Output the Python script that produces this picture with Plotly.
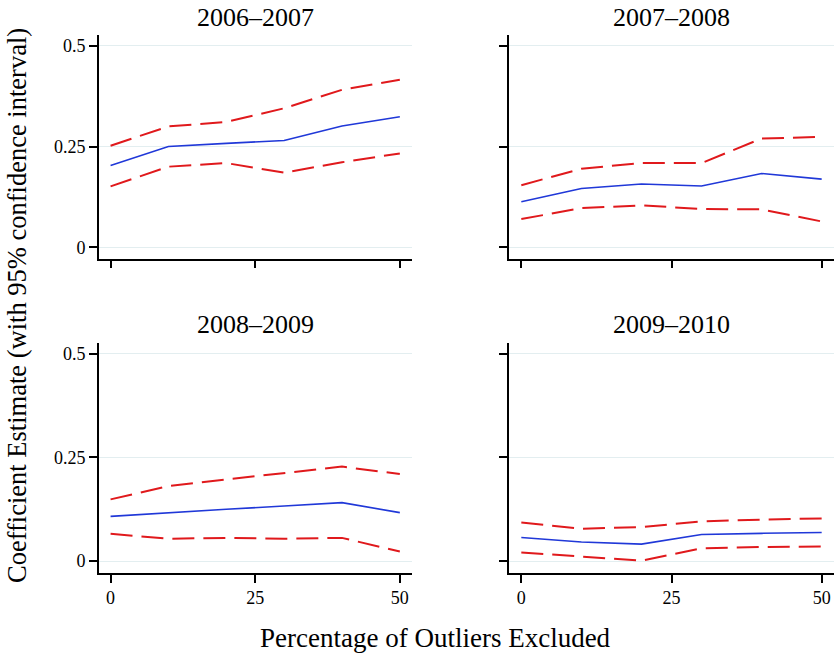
import plotly.graph_objects as go

# ---- data ----
pct = [0, 10, 20, 30, 40, 50]
periods = ["2006–2007", "2007–2008", "2008–2009", "2009–2010"]

est_0607 = [0.203, 0.250, 0.258, 0.265, 0.301, 0.324]
up_0607 = [0.252, 0.300, 0.311, 0.345, 0.391, 0.416]
lo_0607 = [0.151, 0.200, 0.209, 0.185, 0.211, 0.233]

est_0708 = [0.113, 0.146, 0.157, 0.152, 0.183, 0.169]
up_0708 = [0.154, 0.195, 0.209, 0.209, 0.270, 0.274]
lo_0708 = [0.070, 0.097, 0.104, 0.095, 0.094, 0.064]

est_0809 = [0.108, 0.117, 0.125, 0.133, 0.141, 0.117]
up_0809 = [0.149, 0.181, 0.197, 0.212, 0.228, 0.210]
lo_0809 = [0.066, 0.054, 0.056, 0.054, 0.056, 0.023]

est_0910 = [0.057, 0.046, 0.041, 0.064, 0.067, 0.069]
up_0910 = [0.093, 0.078, 0.082, 0.096, 0.100, 0.103]
lo_0910 = [0.021, 0.011, 0.001, 0.031, 0.034, 0.035]

y_ticks = [0, 0.25, 0.5]
y_tick_labels = ["0", "0.25", "0.5"]
x_ticks = [0, 25, 50]
x_tick_labels = ["0", "25", "50"]

panels = [
    (est_0607, up_0607, lo_0607),
    (est_0708, up_0708, lo_0708),
    (est_0809, up_0809, lo_0809),
    (est_0910, up_0910, lo_0910),
]

# ---- layout geometry ----
W, H = 836, 656
FONT = "Liberation Serif"
BLUE = "#2038d8"
RED = "#e0191c"
GRID = "#e3eef0"


def px(x):
    return x / W


def py(y):
    return 1 - y / H


xdom = [[px(99), px(411.7)], [px(509.3), px(834)],
        [px(99), px(411.7)], [px(509.3), px(834)]]
ydom = [[py(258.5), py(35)], [py(258.5), py(35)],
        [py(572.7), py(342.7)], [py(572.7), py(342.7)]]
title_y = [py(17.5), py(17.5), py(325), py(325)]
title_x = [px((110.7 + 400) / 2), px((520.7 + 821.7) / 2),
           px((110.7 + 400) / 2), px((520.7 + 821.7) / 2)]

fig = go.Figure()
layout = dict(
    width=W, height=H,
    margin=dict(l=0, r=0, t=0, b=0),
    paper_bgcolor="white", plot_bgcolor="white",
    showlegend=False,
    font=dict(family=FONT, color="black", size=18),
)

annotations = []
for i, (est, up, lo) in enumerate(panels):
    n = "" if i == 0 else str(i + 1)
    xa, ya = "x" + n, "y" + n
    for vals, color, width, dash in [(up, RED, 2, "22px,9px"),
                                     (lo, RED, 2, "22px,9px"),
                                     (est, BLUE, 1.6, "solid")]:
        fig.add_trace(go.Scatter(x=pct, y=vals, mode="lines", xaxis=xa, yaxis=ya,
                                 line=dict(color=color, width=width, dash=dash),
                                 hoverinfo="skip"))
    bottom = i >= 2
    left = i % 2 == 0
    layout["xaxis" + n] = dict(
        domain=xdom[i], anchor=ya, range=[-2, 52.05],
        tickmode="array", tickvals=x_ticks, ticktext=x_tick_labels,
        showticklabels=bottom, ticks="outside", ticklen=8, tickwidth=1.5,
        tickcolor="black", showline=True, linecolor="black", linewidth=1.8,
        showgrid=False, zeroline=False, tickfont=dict(size=18, family=FONT),
    )
    layout["yaxis" + n] = dict(
        domain=ydom[i], anchor=xa, range=[-0.028, 0.527],
        tickmode="array", tickvals=y_ticks, ticktext=y_tick_labels,
        showticklabels=left, ticks="outside", ticklen=8, tickwidth=1.5,
        tickcolor="black", showline=True, linecolor="black", linewidth=1.8,
        showgrid=True, gridcolor=GRID, gridwidth=1, zeroline=False,
        tickfont=dict(size=18, family=FONT),
    )
    annotations.append(dict(
        text=periods[i], xref="paper", yref="paper",
        x=title_x[i], y=title_y[i], xanchor="center", yanchor="middle",
        showarrow=False, font=dict(size=26, family=FONT, color="black"),
    ))

annotations.append(dict(
    text="Percentage of Outliers Excluded", xref="paper", yref="paper",
    x=px(435), y=py(638), xanchor="center", yanchor="middle",
    showarrow=False, font=dict(size=27, family=FONT, color="black"),
))
annotations.append(dict(
    text="Coefficient Estimate (with 95% confidence interval)", xref="paper",
    yref="paper", x=px(16.5), y=py(305.5), xanchor="center", yanchor="middle",
    textangle=-90, showarrow=False,
    font=dict(size=26.5, family=FONT, color="black"),
))
layout["annotations"] = annotations

fig.update_layout(**layout)
# remove the default 8px page margin so the figure fills the window exactly
fig.write_html("out.html", config={"displayModeBar": False},
               post_script="document.body.style.margin='0';")
